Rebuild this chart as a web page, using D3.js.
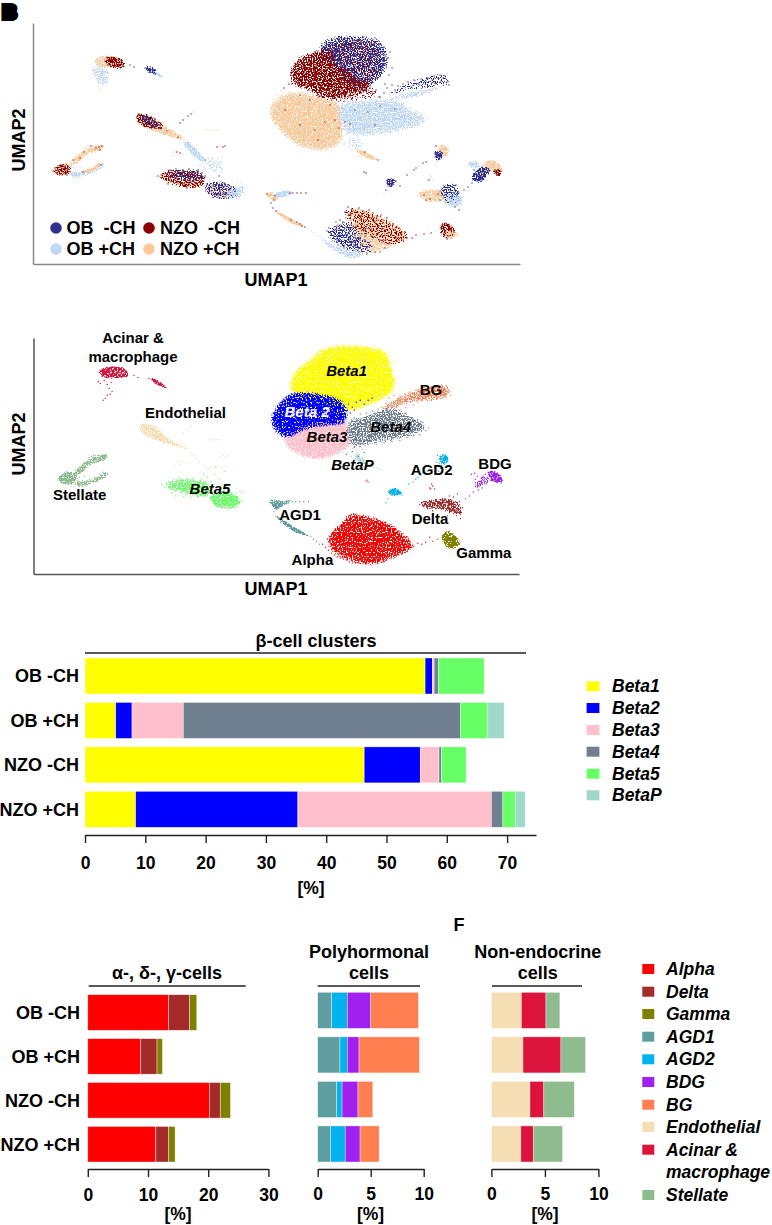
<!DOCTYPE html>
<html><head><meta charset="utf-8">
<script src="https://cdn.jsdelivr.net/npm/d3@7"></script>
<style>body{margin:0;background:#fff}svg{display:block}text{font-family:"Liberation Sans",Arial,sans-serif;font-weight:700;fill:#000}</style>
</head><body><svg id="c" width="772" height="1225"></svg>
<script>
// ---------- condition / cluster names and colours
const conditions=["OB  -CH","NZO  -CH","OB +CH","NZO +CH"];
const rowLabels=["OB -CH","OB +CH","NZO -CH","NZO +CH"];
const conditionColors=["#2e3192","#8b0000","#bcd7f7","#fdc998"];
const betaNames=["Beta1","Beta2","Beta3","Beta4","Beta5","BetaP"];
const betaColors=["#ffff00","#0000ff","#ffc0cb","#708090","#66ff66","#9fd9c9"];
const endoNames=["Alpha","Delta","Gamma"];
const endoColors=["#ff0000","#a52a2a","#808000"];
const polyNames=["AGD1","AGD2","BDG","BG"];
const polyColors=["#5f9ea0","#00b2ee","#a020f0","#ff7f50"];
const nonNames=["Endothelial","Acinar","Stellate"];
const nonColors=["#f5deb3","#dc143c","#8fbc8f"];
// ---------- stacked percentages
const betaPct=[[56.4,1.2,0.3,0.7,7.6,0],[5.1,2.7,8.5,46.0,4.5,2.7],[46.3,9.3,3.1,0.4,4.1,0],[8.4,26.9,32.1,1.9,2.1,1.6]];
const endoPct=[[13.4,3.5,1.2],[8.8,2.7,0.9],[20.2,1.8,1.7],[11.3,2.1,1.1]];
const polyPct=[[1.3,1.5,2.2,4.5],[2.1,0.7,1.1,5.7],[1.8,0.5,1.5,1.4],[1.2,1.4,1.4,1.8]];
const nonPct=[[2.8,2.3,1.3],[2.95,3.55,2.3],[3.6,1.3,2.85],[2.75,1.2,2.7]];
// ---------- UMAP outlines: [who, outline, sparseness of the fill, edge softness]
const regionsByCondition=[
 [3,[[272,110],[277,102],[287,95],[303,95],[323,100],[338,105],[340,123],[340,140],[330,147],[317,148],[303,145],[290,137],[280,127],[273,118]],.14,3.5],
 [2,[[340,105],[360,102],[383,100],[400,102],[410,110],[427,118],[417,125],[397,130],[377,133],[360,135],[343,130],[340,117]],.25,3.5],
 [0,[[320,47],[333,38],[353,37],[380,42],[387,57],[383,73],[373,83],[363,88],[347,83],[337,70],[327,60]],.28,3],
 [2,[[335,50],[375,45],[380,75],[350,80]],.7,3],
 [1,[[292,70],[298,60],[317,52],[330,50],[337,67],[347,70],[357,80],[370,83],[367,90],[350,95],[330,98],[310,90],[293,83]],.24,3],
 [1,[[325,45],[375,42],[383,70],[365,88],[340,72]],.68,3],
 [1,[[300,90],[340,92],[372,85],[380,95],[345,103],[320,100]],.6,3],
 [0,[[385,97],[400,86],[420,78],[446,74],[449,84],[430,88],[405,92]],.6,1.8],
 [2,[[385,100],[420,90],[445,86],[420,96]],.35,1.5],
 [2,[[345,140],[360,138],[362,150],[350,148]],.55,2],
 [3,[[356,149],[366,153],[378,160],[365,157]],.14,1],
 [2,[[320,238],[340,248],[365,254],[350,258],[330,248]],.3,1.6],
 [0,[[327,230],[350,222],[362,235],[360,252],[347,250],[330,240]],.45,2.5],
 [3,[[348,210],[373,213],[400,228],[408,238],[393,246],[365,252],[355,235]],.32,2.5],
 [1,[[343,213],[348,207],[373,212],[400,227],[410,237],[393,247],[372,240],[352,228]],.58,2.5],
 [0,[[350,235],[372,240],[375,252],[360,255]],.65,2],
 [3,[[95,60],[105,56],[120,58],[124,65],[112,67],[98,66]],.25,1.2],
 [1,[[106,58],[123,60],[124,67],[108,66]],.28,1.2],
 [2,[[92,68],[108,68],[106,85],[96,82]],.42,2],
 [0,[[146,67],[155,70],[157,74],[148,71]],.1,.8],
 [2,[[154,71],[163,77],[160,77]],.05,.6],
 [3,[[137,114],[150,116],[168,128],[186,140],[168,136],[146,128],[138,123]],.25,1.2],
 [1,[[137,114],[150,116],[165,128],[146,128],[138,123]],.35,1.2],
 [0,[[139,114],[152,118],[160,128],[147,125]],.4,1.2],
 [2,[[186,141],[204,160],[200,160],[184,143]],.12,.8],
 [3,[[158,176],[175,169],[205,176],[203,186],[185,188],[168,183]],.55,1.8],
 [1,[[158,176],[175,169],[205,176],[203,186],[185,188],[168,183]],.42,1.8],
 [0,[[165,172],[200,170],[205,180],[175,180]],.55,1.8],
 [0,[[204,186],[222,182],[237,190],[235,197],[212,197]],.32,1.6],
 [3,[[204,186],[222,182],[237,190],[235,197],[212,197]],.6,1.6],
 [2,[[226,192],[245,186],[240,197],[228,198]],.3,1.4],
 [2,[[200,160],[222,158],[222,175],[208,172]],.65,2],
 [3,[[53,172],[60,164],[70,165],[71,172],[62,176]],.32,1.2],
 [1,[[53,172],[60,164],[70,165],[71,172],[62,176]],.38,1.2],
 [3,[[70,165],[85,150],[103,145],[102,149],[88,154],[74,165]],.2,1],
 [2,[[70,174],[90,170],[103,163],[103,166],[90,173],[74,177]],.16,1],
 [3,[[80,172],[92,168],[100,163],[100,166],[90,172]],.08,.7],
 [3,[[267,193],[278,196],[276,200],[270,198]],.12,.8],
 [2,[[276,194],[290,191],[292,193],[278,197]],.08,.7],
 [3,[[276,211],[290,218],[305,227],[290,222]],.08,.7],
 [3,[[441,146],[447,148],[446,155],[441,155]],.05,1],
 [0,[[435,152],[442,152],[441,158],[437,160]],.15,1],
 [0,[[387,180],[395,180],[393,185],[388,186]],.15,1],
 [3,[[418,193],[440,190],[445,200],[427,201]],.28,1.2],
 [0,[[440,188],[455,184],[460,200],[446,203]],.42,1.4],
 [2,[[446,196],[461,196],[461,205],[450,206]],.22,1.2],
 [3,[[484,163],[497,162],[501,170],[490,170]],.15,1],
 [2,[[468,163],[478,162],[480,167],[470,167]],.28,1],
 [0,[[472,178],[482,167],[490,170],[478,183]],.22,1.2],
 [1,[[494,170],[501,170],[501,175],[495,175]],.22,.8],
 [1,[[441,224],[450,224],[455,233],[447,238],[441,233]],.28,1],
 [3,[[445,230],[458,233],[452,239],[446,238]],.28,1]
];
const regionsByCluster=[
 ["BetaP",[[352,146],[358,143],[362,150],[378,160],[364,156],[355,152]],.35,1.2],
 ["BG",[[381,98],[398,87],[418,78],[445,75],[448,85],[431,90],[405,93],[388,100]],.35,2],
 ["Beta3",[[283,127],[301,117],[321,113],[341,112],[346,133],[333,142],[315,147],[298,143],[288,137]],.07,3],
 ["Beta4",[[346,113],[368,105],[388,98],[405,105],[425,117],[415,123],[391,130],[368,133],[351,137],[346,127]],.28,3],
 ["Beta1",[[291,73],[296,62],[308,53],[321,42],[341,38],[368,40],[381,43],[386,60],[390,75],[380,85],[368,90],[351,97],[338,95],[318,85],[301,83],[291,80]],.05,3.5],
 ["Beta2",[[271,110],[276,98],[288,87],[301,85],[318,87],[338,93],[341,110],[321,113],[301,117],[285,125],[275,120]],.07,3],
 ["Alpha",[[327,230],[343,213],[348,207],[373,212],[387,217],[400,227],[410,237],[393,247],[367,255],[347,250],[330,240]],.14,3],
 ["Beta5",[[160,177],[178,170],[205,175],[205,187],[185,185]],.3,2],
 ["Beta5",[[207,188],[225,183],[237,193],[232,198],[212,196]],.14,1.8],
 ["Endothelial",[[137,115],[150,117],[165,130],[185,140],[165,134],[145,127],[138,122]],.14,1.2],
 ["Stellate",[[54,170],[62,163],[70,164],[72,171],[62,175]],.14,1.2],
 ["Stellate",[[70,165],[85,150],[103,145],[102,149],[88,154],[74,165]],.18,1],
 ["Stellate",[[70,174],[90,170],[103,163],[103,166],[90,173],[74,177]],.18,1],
 ["Acinar",[[95,60],[105,56],[120,58],[124,65],[112,67],[98,66]],.18,1.2],
 ["Acinar",[[148,68],[155,71],[162,77],[152,73]],.04,.7],
 ["Delta",[[418,195],[440,190],[455,193],[460,206],[440,200],[425,199]],.25,1.5],
 ["Gamma",[[441,227],[448,224],[458,235],[450,240],[443,235]],.1,1.2],
 ["AGD1",[[268,192],[280,193],[290,192],[280,196],[272,200]],.08,.8],
 ["AGD1",[[274,208],[290,218],[305,227],[288,221]],.05,.7],
 ["AGD2",[[440,146],[446,148],[444,153],[439,152]],.05,.8],
 ["AGD2",[[387,183],[392,180],[399,184],[392,186]],.05,.8],
 ["BDG",[[488,163],[497,165],[501,172],[492,172]],.08,1],
 ["BDG",[[472,180],[480,168],[490,170],[478,178]],.4,1.4]
];
// ---------- individually read cells [umap1, umap2, condition]
const beta1Cells=[[291,74,1],[293,70,1],[295,78,1],[297,64,1],[298,83,1],[300,60,1],[302,72,1],[304,66,1],[305,80,1],[306,58,1],[308,75,1],[309,55,1],[311,69,1],[312,84,1],[313,62,1],[315,52,1],[316,78,1],[317,58,1],[319,71,1],[320,88,1],[321,64,1],[322,50,1],[323,82,1],[325,74,1],[326,56,1],[327,90,1],[329,67,1],[330,47,1],[331,78,1],[332,94,1],[333,60,1],[335,85,1],[336,72,1],[338,52,1],[339,92,1],[341,65,1],[342,80,1],[344,44,1],[345,97,1],[347,58,1],[349,75,1],[350,88,1],[352,48,1],[354,68,1],[355,94,1],[357,40,1],[358,82,1],[360,56,1],[362,90,1],[364,72,1],[366,46,1],[368,85,1],[370,62,1],[372,92,1],[375,43,1],[376,78,1],[379,97,1],
[322,46,0],[326,42,0],[329,50,0],[332,40,0],[335,46,0],[337,56,0],[339,38,0],[340,62,0],[342,49,0],[343,72,0],[345,38,0],[346,54,0],[347,66,0],[348,43,0],[350,80,0],[351,60,0],[352,38,0],[353,70,0],[355,47,0],[356,85,0],[357,55,0],[358,74,0],[359,40,0],[360,64,0],[361,48,0],[362,80,0],[363,37,0],[364,58,0],[365,88,0],[366,68,0],[367,41,0],[368,52,0],[369,76,0],[370,44,0],[371,60,0],[372,82,0],[373,50,0],[374,70,0],[375,38,0],[376,90,0],[377,56,0],[378,64,0],[379,44,0],[380,76,0],[381,50,0],[382,60,0],[383,70,0],[384,47,0],[385,55,0],[386,65,0],[388,58,0],[389,75,0],[390,52,0],[385,84,0],[392,68,0],
[330,55,2],[338,44,2],[344,60,2],[350,50,2],[356,66,2],[361,42,2],[363,76,2],[347,78,2],[372,56,2],[366,62,2],[352,84,2],[322,70,3],[334,82,3],[316,66,3],[342,90,3],[358,92,3],[305,72,3]];
const beta2Cells=[[272,106,3],[271,112,3],[274,100,3],[275,118,3],[277,95,3],[279,124,3],[281,91,3],[284,88,1],[286,85,3],[289,84,1],[292,84,1],[295,86,3],[298,82,1],[302,83,1],[306,84,3],[310,85,1],[314,84,1],[318,86,3],[322,88,1],[326,89,1],[330,92,3],[334,91,1],[338,93,1],[342,96,3],[346,94,1],[350,97,1],[354,92,3],[358,90,1],[362,94,3],[366,90,1],[370,88,1],[345,100,3],[348,103,3],[352,100,3],[300,95,0],[310,100,0],[320,96,1],[330,105,1],[285,110,0],[295,105,3]];
const beta3Cells=[[285,128,3],[288,134,3],[291,139,3],[295,141,3],[300,145,3],[305,146,3],[310,148,3],[316,149,3],[322,147,3],[328,146,3],[334,144,3],[338,140,3],[342,136,3],[345,130,3],[300,125,1],[315,130,0],[325,122,1],[335,120,1],[310,115,2],[290,128,2],[330,135,2],[318,140,1],[339,128,1]];
const beta4Cells=[[347,113,2],[352,108,2],[358,104,2],[364,103,2],[370,101,2],[376,99,2],[382,98,2],[390,97,2],[398,100,2],[404,103,2],[410,108,2],[416,112,2],[422,116,2],[427,118,2],[424,121,2],[418,125,2],[412,126,2],[405,128,2],[398,131,2],[390,132,2],[382,133,2],[374,135,2],[366,135,2],[358,137,2],[352,138,2],[347,134,2],[344,145,2],[350,142,2],[356,147,2],[362,143,2],[355,110,0],[368,112,0],[380,106,0],[395,109,0],[375,125,1],[350,124,1],[345,122,1],[400,118,3]];
const bgCells=[[380,97,0],[384,93,1],[387,88,0],[390,95,3],[392,85,0],[395,90,1],[398,86,0],[400,94,2],[403,84,0],[405,88,2],[408,82,1],[411,87,0],[414,80,0],[416,86,2],[419,84,0],[421,79,0],[423,88,3],[426,82,0],[428,78,1],[430,85,2],[432,80,0],[434,76,0],[436,83,1],[438,78,0],[440,75,0],[441,81,0],[443,78,1],[445,76,0],[447,82,0],[449,85,0],[444,84,2],[436,88,3],[426,90,3],[416,92,3],[412,95,2],[404,97,2]];
const betaPCells=[[345,143,2],[349,147,2],[352,150,3],[356,146,2],[358,152,3],[361,150,3],[363,154,3],[366,155,3],[369,156,3],[372,158,3],[375,159,3],[378,160,1],[365,152,1],[360,140,2],[354,140,2],[350,139,2],[358,156,3]];
const agd2Cells=[[436,146,1],[441,146,3],[444,148,3],[446,152,3],[443,155,3],[445,150,3],[438,154,0],[440,156,0],[437,157,0],[441,153,0],[439,159,0],[435,153,0],[437,162,2],[436,165,2],[407,175,0],[411,173,2],[414,170,0],[416,168,1],[419,166,3],[421,164,3],[423,163,0],[426,162,1],[387,183,0],[389,181,0],[391,182,3],[393,180,0],[395,183,3],[392,185,0],[396,181,0],[398,184,3],[400,186,1],[390,186,1],[386,190,0],[384,194,2]];
const bdgCells=[[470,165,2],[473,164,2],[476,167,2],[474,170,0],[478,172,0],[480,169,0],[482,167,1],[484,165,3],[487,163,3],[490,162,3],[493,163,3],[496,165,3],[498,168,3],[492,167,3],[486,168,1],[483,172,0],[479,176,0],[476,178,0],[474,174,0],[477,181,0],[472,183,0],[495,170,1],[498,172,1],[500,174,1],[496,173,1],[501,171,1],[489,171,0],[485,175,1],[481,179,0],[468,187,0],[464,190,0],[458,193,0],[452,197,0]];
const deltaCells=[[418,196,3],[420,194,3],[422,198,3],[424,195,1],[426,197,3],[428,193,3],[430,199,1],[432,195,3],[434,192,3],[436,197,3],[426,200,1],[431,202,3],[438,194,1],[440,191,0],[442,196,3],[444,190,0],[446,194,0],[448,187,0],[450,192,0],[452,188,2],[454,193,2],[456,185,0],[447,199,2],[450,201,3],[453,203,2],[456,200,2],[459,204,2],[448,204,3],[444,202,3],[452,196,0],[458,196,2],[461,199,2],[455,207,1],[459,210,1],[440,200,0],[446,207,2]];
const gammaCells=[[441,228,1],[443,225,1],[445,223,1],[447,229,1],[449,226,1],[446,232,3],[450,231,3],[452,233,3],[454,232,1],[456,234,3],[458,236,3],[448,236,1],[444,236,0],[451,237,3],[443,233,2],[447,239,1],[436,231,2],[431,233,0]];
const agd1Cells=[[267,194,1],[270,196,3],[273,198,3],[275,196,0],[274,200,1],[276,199,3],[278,197,2],[280,195,2],[283,193,2],[286,192,2],[290,193,1],[293,193,0],[297,193,1],[301,193,1],[306,193,1],[271,203,0],[273,208,0],[276,211,1],[278,214,3],[281,215,3],[284,216,3],[288,218,3],[291,220,1],[294,221,3],[297,222,0],[300,224,1],[302,226,1],[305,227,0],[308,228,2],[311,231,2],[314,233,2],[317,236,2]];
const alphaCells=[[345,212,1],[348,207,1],[350,214,1],[352,209,1],[355,218,1],[357,212,1],[359,208,1],[361,216,1],[363,211,1],[365,220,1],[367,214,1],[369,210,1],[371,218,1],[373,213,1],[375,222,1],[377,216,1],[379,226,1],[381,215,1],[383,220,1],[385,230,1],[387,218,1],[389,226,1],[391,234,1],[393,224,1],[395,230,1],[397,238,1],[399,228,1],[401,234,1],[403,240,1],[405,232,1],[407,238,1],[350,228,1],[356,226,1],[343,222,1],[340,220,1],[337,226,1],[360,240,1],[370,245,1],[380,240,1],[385,248,1],[375,252,1],[365,236,1],[372,230,1],[378,234,1],[364,228,1],[390,243,1],[358,250,1],[367,254,1],
[327,231,0],[329,228,0],[331,234,0],[333,230,0],[334,236,0],[336,229,0],[337,240,0],[339,233,0],[340,225,0],[341,237,0],[342,244,0],[343,230,0],[345,235,0],[346,241,0],[347,227,0],[348,246,0],[349,232,0],[350,238,0],[351,243,0],[352,228,0],[353,250,0],[354,235,0],[355,241,0],[356,246,0],[358,238,0],[359,252,0],[361,244,0],[363,249,0],[365,240,0],[344,248,0],[338,245,0],[336,222,0],[367,248,0],[371,236,0],[380,252,0],[362,234,0],
[320,236,2],[323,239,2],[326,242,2],[329,245,2],[332,247,2],[335,249,2],[338,250,2],[341,251,2],[344,252,2],[347,254,2],[350,255,2],[353,255,2],[331,240,2],[340,247,2],[335,243,2],[345,246,2],[428,229,2],[424,234,1],[420,236,3],[416,235,1],[412,238,1],[408,240,3]];
const acinarCells=[[95,62,3],[97,60,3],[100,59,3],[103,58,3],[105,61,0],[107,59,3],[109,62,1],[111,58,1],[113,61,1],[115,60,1],[117,62,1],[119,64,1],[121,60,0],[123,65,1],[112,64,3],[108,65,3],[116,66,1],[120,66,0],[104,64,3],[100,62,2],[98,66,2],[94,71,2],[96,73,2],[100,70,2],[103,74,2],[105,78,2],[107,72,2],[108,81,3],[106,84,2],[101,88,3],[99,90,3],[103,85,2],[130,65,0],[134,67,0],[145,68,0],[148,69,0],[150,70,0],[152,70,0],[154,72,0],[156,73,2],[158,75,2],[160,76,2],[162,77,2],[151,72,2],[428,179,3],[431,177,2],[429,180,1],[433,180,3],[430,175,2],[364,172,0],[366,173,1],[365,171,3]];
const endothelialCells=[[137,117,1],[139,114,1],[141,119,0],[143,116,1],[145,118,3],[147,115,0],[149,120,1],[151,117,0],[153,122,3],[155,119,1],[157,123,0],[159,125,3],[139,121,1],[142,123,3],[145,124,1],[148,122,0],[151,125,1],[153,127,0],[156,128,3],[159,121,2],[161,128,0],[163,129,3],[165,130,3],[167,131,1],[169,133,3],[171,134,3],[173,135,3],[175,136,3],[178,137,1],[181,139,3],[184,140,3],[187,143,2],[190,146,2],[193,149,2],[196,152,2],[199,156,2],[202,158,2],[204,160,2],[180,123,1],[183,120,1],[186,118,3],[188,116,1],[191,114,0],[193,112,3],[205,130,3],[208,130,3],[211,130,3],[214,130,2],[217,130,3],[174,152,3],[177,152,1],[180,153,1],[183,154,3],[176,155,3],[172,156,3],[217,147,1],[220,146,3],[223,147,1],[225,146,0],[205,160,0],[213,158,3],[218,158,2],[222,157,3],[208,158,2]];
const stellateCells=[[53,171,1],[55,168,1],[56,173,3],[58,166,0],[58,170,1],[60,168,3],[60,174,1],[61,165,1],[62,171,0],[63,169,1],[64,174,3],[65,166,3],[66,171,1],[67,164,3],[67,175,0],[68,169,2],[70,172,3],[70,164,3],[71,161,3],[73,160,1],[75,158,3],[76,161,2],[78,156,3],[80,158,1],[82,154,3],[84,152,1],[85,148,3],[87,147,3],[89,146,3],[91,146,1],[94,148,3],[96,148,1],[99,147,1],[102,146,1],[100,150,1],[73,172,3],[76,174,2],[78,172,3],[80,173,3],[83,172,0],[85,170,2],[88,171,3],[90,168,3],[92,170,3],[94,168,3],[96,165,3],[99,163,3],[101,165,0],[103,164,2],[72,167,2],[75,168,2],[80,167,2]];
const beta5Cells=[[158,176,1],[161,178,3],[163,174,1],[165,172,3],[166,180,1],[168,176,0],[170,170,1],[171,182,3],[173,174,1],[175,178,0],[176,169,0],[178,183,1],[179,172,1],[181,176,0],[182,186,3],[183,170,0],[185,180,1],[186,174,1],[188,184,1],[189,169,1],[190,177,0],[192,172,0],[193,186,1],[195,181,3],[196,175,1],[198,170,1],[199,184,3],[200,178,1],[202,173,0],[203,181,1],[205,176,1],[172,187,3],[177,178,3],[184,184,3],[191,182,1],[194,188,3],[168,184,1],[187,188,1],[180,188,3],
[204,186,3],[207,184,0],[209,188,1],[211,191,0],[213,186,2],[215,194,0],[216,190,3],[218,195,1],[219,186,0],[220,191,0],[222,187,0],[223,193,0],[224,183,0],[225,197,0],[226,189,0],[228,185,0],[229,191,3],[230,196,2],[231,188,0],[233,192,2],[235,190,2],[236,195,2],[238,192,2],[240,183,3],[237,182,3],[233,184,2],[212,197,2],[200,165,2],[204,168,2],[208,172,2],[211,165,2],[214,178,2],[216,170,2],[219,176,0],[212,158,2],[221,162,2]];
const cellGroups=[["BetaP",betaPCells],["BG",bgCells],["Beta3",beta3Cells],["Beta4",beta4Cells],["Beta2",beta2Cells],["Beta1",beta1Cells],["Beta5",beta5Cells],["Endothelial",endothelialCells],["Stellate",stellateCells],["Acinar",acinarCells],["AGD1",agd1Cells],["AGD2",agd2Cells],["BDG",bdgCells],["Delta",deltaCells],["Gamma",gammaCells],["Alpha",alphaCells]];
const clusterLabels=[["Beta1",346.6,371,1],["BG",431,389.3,0],["Beta 2",307,411.7,1],["Beta4",390.7,426.7,1],["Beta3",327,436.7,1],["BetaP",352.4,465,1],["AGD2",431.7,470,0],["BDG",495,463.3,0],["Endothelial",185.5,412.3,0],["Stellate",79.7,495,0],["Beta5",210,488.3,1],["AGD1",300,515,0],["Delta",430,519,0],["Alpha",312.4,560,0],["Gamma",483.8,552.3,0],["Acinar &",133,338,0],["macrophage",133,357,0]];

const clusterColor=Object.fromEntries([...betaNames.map((n,i)=>[n,betaColors[i]]),...endoNames.map((n,i)=>[n,endoColors[i]]),...polyNames.map((n,i)=>[n,polyColors[i]]),...nonNames.map((n,i)=>[n,nonColors[i]])]);
const svg=d3.select("#c");
svg.append("rect").attr("width",772).attr("height",1225).attr("fill","#fff");
const T=(t,x,y,o={})=>svg.append("text").text(t).attr("x",x).attr("y",y).attr("dy",".35em").attr("text-anchor",o.a||"middle").style("font-size",(o.s||18)+"px").style("font-style",o.i?"italic":"normal").style("fill",o.c||"#000");

// panel marker (overlapping letters in the source)
svg.append("text").text("B").attr("x",2).attr("y",19).style("font-size","21px").style("stroke","#000").style("stroke-width","4px");
T("F",459,925,{s:18});

// grainy fill for a dense area: the outline decides the shape, the filter only the stippled look
const defs=svg.append("defs");
let fid=0;
function grain(color,sparse,soft){
 const id="g"+(++fid);
 const f=defs.append("filter").attr("id",id).attr("x","-100%").attr("y","-100%").attr("width","300%").attr("height","300%").attr("color-interpolation-filters","sRGB");
 f.append("feGaussianBlur").attr("in","SourceAlpha").attr("stdDeviation",soft).attr("result","b");
 f.append("feTurbulence").attr("type","fractalNoise").attr("baseFrequency",.8).attr("numOctaves",1).attr("seed",fid).attr("result","n0");
 f.append("feComponentTransfer").attr("in","n0").attr("result","n").append("feFuncA").attr("type","linear").attr("slope",3).attr("intercept",-1);
 f.append("feComposite").attr("in","b").attr("in2","n").attr("operator","arithmetic").attr("k1",1).attr("k2",0).attr("k3",0).attr("k4",-sparse).attr("result","m");
 f.append("feComponentTransfer").attr("in","m").attr("result","m2").append("feFuncA").attr("type","linear").attr("slope",8).attr("intercept",0);
 f.append("feFlood").attr("flood-color",color).attr("result","c");
 f.append("feComposite").attr("in","c").attr("in2","m2").attr("operator","in");
 return `url(#${id})`;
}
function axes(x,y,color){
 svg.append("g").attr("transform",`translate(0,${y.range()[0]})`).call(d3.axisBottom(x).tickValues([]).tickSizeOuter(0)).select(".domain").attr("stroke",color).attr("stroke-width",1.5);
 svg.append("g").attr("transform",`translate(${x.range()[0]},0)`).call(d3.axisLeft(y).tickValues([]).tickSizeOuter(0)).select(".domain").attr("stroke",color).attr("stroke-width",1.5);
}
const x1=d3.scaleLinear().domain([33,520]).range([33,520]);
const y1=d3.scaleLinear().domain([264,23]).range([264,23]);
const x2=d3.scaleLinear().domain([28.7,518]).range([33.5,519]);
const y2=d3.scaleLinear().domain([266.2,26.9]).range([574,338]);
const area=(x,y)=>d3.line().x(d=>x(d[0])).y(d=>y(d[1])).curve(d3.curveCatmullRomClosed.alpha(.5));
const g1=svg.append("g"),g2=svg.append("g");
const a1=area(x1,y1),a2=area(x2,y2);
g1.selectAll("path").data(regionsByCondition).join("path").attr("d",d=>a1(d[1])).attr("filter",d=>grain(conditionColors[d[0]],d[2],d[3]));
g2.selectAll("path").data(regionsByCluster).join("path").attr("d",d=>a2(d[1])).attr("filter",d=>grain(clusterColor[d[0]],d[2],d[3]));
cellGroups.forEach(([name,cells])=>{
 g1.append("g").selectAll("circle").data(cells).join("circle").attr("cx",d=>x1(d[0])).attr("cy",d=>y1(d[1])).attr("r",.7).attr("fill",d=>conditionColors[d[2]]);
 g2.append("g").selectAll("circle").data(cells).join("circle").attr("cx",d=>x2(d[0])).attr("cy",d=>y2(d[1])).attr("r",.7).attr("fill",clusterColor[name]);
});
axes(x1,y1,"#8a8a8a");axes(x2,y2,"#555");
T("UMAP1",276,280);T("UMAP1",276,589);
[[19,140],[19,444]].forEach(([a,b])=>svg.append("text").text("UMAP2").attr("text-anchor","middle").attr("dy",".35em").attr("transform",`translate(${a},${b}) rotate(-90)`).style("font-size","18px"));
[[56,228,0],[56,249,2],[149,228,1],[149,249,3]].forEach(([x,y,i])=>{
 svg.append("circle").attr("cx",x).attr("cy",y).attr("r",5.8).attr("fill",conditionColors[i]);
 T(conditions[i],x+(i%2?11:10.5),y,{a:"start"}).style("white-space","pre");
});
clusterLabels.forEach(([t,x,y,it])=>T(t,x,y,{s:15,i:it,c:t==="Beta 2"?"#fff":"#000"}));

// stacked bars
function bars({rows,names,colors,x0,unit,max,y0,y1:ye,axisY,padding,ticks,labelX,line,lineY}){
 const x=d3.scaleLinear().domain([0,max]).range([x0,x0+unit*max]);
 const y=d3.scaleBand().domain(rowLabels).range([y0,ye]).paddingInner(.19);
 const table=rows.map((r,i)=>Object.assign({row:rowLabels[i]},Object.fromEntries(names.map((n,j)=>[n,r[j]]))));
 const series=d3.stack().keys(names)(table);
 svg.append("g").selectAll("g").data(series).join("g").attr("fill",(d,i)=>colors[i]).selectAll("rect").data(d=>d).join("rect")
  .attr("x",d=>x(d[0])).attr("width",d=>x(d[1])-x(d[0])).attr("y",d=>y(d.data.row)).attr("height",y.bandwidth()).attr("stroke","#fff").attr("stroke-opacity",.65).attr("stroke-width",.6);
 const ax=svg.append("g").attr("transform",`translate(0,${axisY})`).call(d3.axisBottom(x).tickValues(ticks).tickSize(8).tickPadding(padding).tickSizeOuter(0));
 ax.select(".domain").attr("stroke","#222").attr("stroke-width",1.6);
 ax.selectAll(".tick line").attr("stroke","#222").attr("stroke-width",1.4);
 ax.selectAll("text").style("font-size","17.5px").style("font-family","'Liberation Sans',Arial,sans-serif").attr("fill","#000");
 svg.append("line").attr("x1",line[0]).attr("x2",line[1]).attr("y1",lineY).attr("y2",lineY).attr("stroke","#222").attr("stroke-width",1.6);
 if(labelX) rowLabels.forEach(r=>T(r,labelX,y(r)+y.bandwidth()/2,{a:"end",s:18}));
}
bars({rows:betaPct,names:betaNames,colors:betaColors,x0:85,unit:6.03,max:74.8,y0:658,y1:827.3,axisY:835,padding:14,ticks:d3.range(0,71,10),labelX:79,line:[85,526],lineY:653});
T("β-cell clusters",316,641);T("[%]",311,888,{s:17.5});
bars({rows:endoPct,names:endoNames,colors:endoColors,x0:87.8,unit:6.02,max:30,y0:994.7,y1:1162,axisY:1169,padding:12,ticks:[0,10,20,30],labelX:80,line:[88.8,245.7],lineY:986});
T("α-, δ-, γ-cells",167,973);T("[%]",178,1214,{s:17.5});
bars({rows:polyPct,names:polyNames,colors:polyColors,x0:317.7,unit:10.6,max:10,y0:992.3,y1:1162,axisY:1169,padding:11,ticks:[0,5,10],line:[317.7,420],lineY:986});
T("Polyhormonal",369,951.7);T("cells",369,973);T("[%]",370.5,1214,{s:17.5});
bars({rows:nonPct,names:nonNames,colors:nonColors,x0:491.4,unit:10.7,max:10,y0:992.3,y1:1162,axisY:1169,padding:11,ticks:[0,5,10],line:[492,582],lineY:986});
T("Non-endocrine",537.7,951.7);T("cells",537.7,973);T("[%]",545,1214,{s:17.5});

// legends
function legend(names,colors,ys,sq,tx,sqw,sqh){
 names.forEach((n,i)=>{
  svg.append("rect").attr("x",sq).attr("y",ys[i]-sqh/2).attr("width",sqw).attr("height",sqh).attr("fill",colors[i]);
  T(n,tx,ys[i],{a:"start",i:1,s:17.5});
 });
}
const betaLegendY=[686.3,708,730,751.7,773.7,795.3];
legend(betaNames,betaColors,betaLegendY,586.6,612,12.8,10);
const otherLegendNames=[...endoNames,...polyNames,"Endothelial","Acinar &","Stellate"];
const otherLegendColors=[...endoColors,...polyColors,...nonColors];
const otherLegendY=[969,991.7,1014,1036.7,1059.3,1082,1104.7,1127,1149.7,1195];
legend(otherLegendNames,otherLegendColors,otherLegendY,642.3,666,12,10);
T("macrophage",666,1172,{a:"start",i:1,s:17.5});
</script></body></html>
